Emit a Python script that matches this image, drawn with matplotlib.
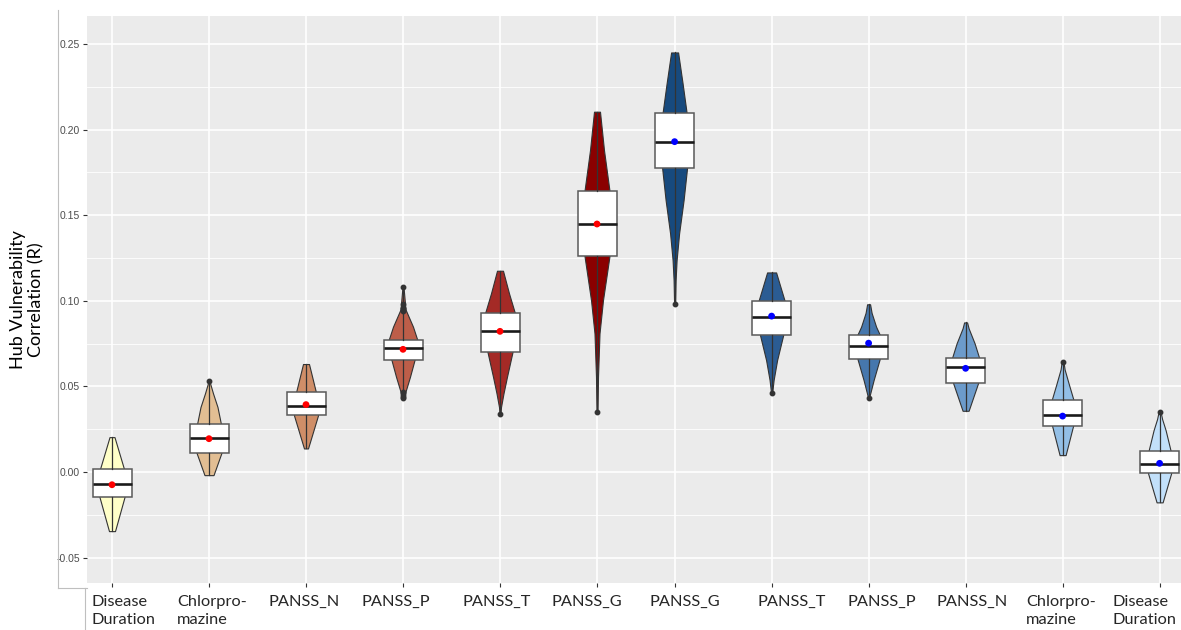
import numpy as np
import matplotlib
matplotlib.use("Agg")
import matplotlib.pyplot as plt
from matplotlib.lines import Line2D

# ---- data -------------------------------------------------------------
labels = ["Disease\nDuration", "Chlorpro-\nmazine", "PANSS_N", "PANSS_P", "PANSS_T", "PANSS_G",
          "PANSS_G", "PANSS_T", "PANSS_P", "PANSS_N", "Chlorpro-\nmazine", "Disease\nDuration"]

# box summaries
q1 = [-0.0146, 0.0113, 0.0331, 0.0654, 0.0701, 0.1262,
      0.1778, 0.0798, 0.0658, 0.0520, 0.0270, -0.0008]
median = [-0.0070, 0.0197, 0.0387, 0.0722, 0.0822, 0.1447,
          0.1926, 0.0907, 0.0734, 0.0611, 0.0333, 0.0047]
q3 = [0.0018, 0.0279, 0.0465, 0.0769, 0.0927, 0.1643,
      0.2099, 0.1001, 0.0798, 0.0668, 0.0419, 0.0125]
mean = [-0.0074, 0.0195, 0.0394, 0.0717, 0.0822, 0.1449,
        0.1930, 0.0911, 0.0753, 0.0606, 0.0327, 0.0051]
vmin = [-0.0345, -0.0018, 0.0138, 0.0430, 0.0341, 0.0352,
        0.0981, 0.0460, 0.0434, 0.0358, 0.0099, -0.0177]
vmax = [0.0204, 0.0533, 0.0631, 0.1082, 0.1176, 0.2105,
        0.2451, 0.1166, 0.0980, 0.0874, 0.0641, 0.0352]
outliers = [[], [0.0533], [], [0.1082, 0.098, 0.096, 0.095, 0.094, 0.047, 0.046, 0.045, 0.044, 0.043],
            [0.0341], [0.0352], [0.0981], [0.0460], [0.0434], [], [0.0641], [0.0352]]

# violin density profiles: (value, density) pairs
profile_y = [
    [-0.0345, -0.0146, -0.0070, 0.0018, 0.0204],
    [-0.0018, 0.0113, 0.0200, 0.0279, 0.0380, 0.0460, 0.0510, 0.0533],
    [0.0138, 0.0331, 0.0390, 0.0465, 0.0631],
    [0.0430, 0.0470, 0.0557, 0.0654, 0.0720, 0.0769, 0.0849, 0.0950, 0.1082],
    [0.0341, 0.0380, 0.0460, 0.0557, 0.0701, 0.0820, 0.0927, 0.1044, 0.1176],
    [0.0352, 0.0557, 0.0810, 0.1005, 0.1262, 0.1450, 0.1643, 0.1880, 0.2105],
    [0.0981, 0.1121, 0.1238, 0.1394, 0.1589, 0.1778, 0.1930, 0.2099, 0.2270, 0.2451],
    [0.0460, 0.0537, 0.0654, 0.0798, 0.0907, 0.1001, 0.1166],
    [0.0434, 0.0537, 0.0658, 0.0734, 0.0798, 0.0849, 0.0930, 0.0980],
    [0.0358, 0.0520, 0.0610, 0.0668, 0.0752, 0.0840, 0.0874],
    [0.0099, 0.0270, 0.0340, 0.0419, 0.0518, 0.0600, 0.0641],
    [-0.0177, -0.0008, 0.0050, 0.0125, 0.0245, 0.0310, 0.0352],
]
profile_d = [
    [6, 25, 30, 24, 5],
    [9, 25, 28, 24, 17, 8, 3, 1],
    [4, 24, 25, 20, 6],
    [1, 5, 14, 23, 31, 29, 20, 5, 1],
    [1, 2, 7, 14, 25, 31, 30, 18, 6],
    [1, 2, 5, 12, 25, 30, 25, 14, 6],
    [1, 2, 4, 9, 18, 25, 28, 24, 16, 7],
    [1, 4, 11, 23, 28, 26, 9],
    [1, 10, 22, 25, 23, 15, 6, 3],
    [6, 25, 29, 27, 18, 6, 3],
    [6, 21, 24, 22, 12, 4, 2],
    [6, 23, 25, 22, 12, 5, 2],
]

fill_colors = ["#FFFFC8", "#E2BE93", "#CF8E68", "#BD5E49", "#A42A26", "#8B0000",
               "#174A7E", "#2B5C93", "#4677AD", "#6C9BCB", "#93BFE6", "#C2E0FA"]
mean_colors = ["#FF0000"] * 6 + ["#0000FF"] * 6

# ---- layout -----------------------------------------------------------
W, H = 1181, 630
positions = np.r_[np.arange(6), np.arange(6) + 5.8]
unit_px = 97.0
label_centers_px = [123, 212, 304, 395.5, 497, 587, 685, 792, 882, 972, 1061, 1145]

fig = plt.figure(figsize=(W / 100, H / 100), dpi=100, facecolor="white")
ax_left, ax_right, ax_bottom, ax_top = 87, 1181, 583, 16
ax = fig.add_axes([ax_left / W, 1 - ax_bottom / H, (ax_right - ax_left) / W, (ax_bottom - ax_top) / H])
ax.set_facecolor("#EBEBEB")
for s in ax.spines.values():
    s.set_visible(False)

ax.set_xlim((ax_left - 112) / unit_px, (ax_right - 112) / unit_px)
ax.set_ylim(-0.0648, 0.2664)

# grid
ax.set_yticks(np.arange(-0.05, 0.2501, 0.05))
ax.set_yticks(np.arange(-0.025, 0.26, 0.05), minor=True)
ax.set_xticks(positions)
ax.grid(which="major", color="white", linewidth=1.2, zorder=0)
ax.grid(which="minor", axis="y", color="white", linewidth=0.6, zorder=0)
ax.set_axisbelow(True)
ax.tick_params(axis="x", which="minor", bottom=False)
ax.tick_params(axis="y", which="minor", left=False)

ax.set_yticklabels([f"{v:.2f}" for v in np.arange(-0.05, 0.2501, 0.05)],
                   fontsize=7.5, color="#4D4D4D", family="Liberation Sans")
ax.tick_params(axis="y", which="major", length=3, width=0.8, color="#333333", pad=2)
ax.tick_params(axis="x", which="major", length=3, width=0.8, color="#333333", labelbottom=False)

# violins
vpstats = []
for i in range(len(labels)):
    vpstats.append(dict(coords=np.array(profile_y[i]), vals=np.array(profile_d[i], float),
                        mean=mean[i], median=median[i], min=vmin[i], max=vmax[i]))
vwidths = [max(d) / unit_px for d in profile_d]
parts = ax.violin(vpstats, positions=positions, widths=vwidths,
                  showmeans=False, showextrema=False, showmedians=False)
for body, c in zip(parts["bodies"], fill_colors):
    body.set_facecolor(c)
    body.set_edgecolor("#333333")
    body.set_linewidth(0.8)
    body.set_alpha(1)
    body.set_zorder(2)

# boxes
bstats = []
for i in range(len(labels)):
    bstats.append(dict(q1=q1[i], med=median[i], q3=q3[i], whislo=vmin[i], whishi=vmax[i],
                       fliers=outliers[i]))
ax.bxp(bstats, positions=positions, widths=39 / unit_px, patch_artist=True,
       showcaps=False, showfliers=True, manage_ticks=False, zorder=3,
       boxprops=dict(facecolor="white", edgecolor="#595959", linewidth=1.1),
       medianprops=dict(color="#1A1A1A", linewidth=1.9, solid_capstyle="butt"),
       whiskerprops=dict(color="#333333", linewidth=0.9),
       flierprops=dict(marker="o", markersize=3.2, markerfacecolor="#333333",
                       markeredgecolor="#333333"))

# means
ax.scatter(positions, mean, s=24, c=mean_colors, zorder=5, linewidths=0)

# category labels
for lab, cx in zip(labels, label_centers_px):
    fig.text(cx / W, 1 - 595 / H, lab, ha="center", va="top", multialignment="left",
             fontsize=11.8, family="Lato", color="#262626", linespacing=1.4)

# axis title
fig.text(27 / W, 1 - 300 / H, "Hub Vulnerability\nCorrelation (R)", rotation=90,
         ha="center", va="center", fontsize=13, family="Lato", color="black",
         linespacing=1.15)

# frame lines around the panel
lc = "#BFBFBF"
fig.add_artist(Line2D([58 / W, 58 / W], [1 - 10 / H, 1 - 588 / H], color=lc, linewidth=0.8))
fig.add_artist(Line2D([58 / W, 87 / W], [1 - 588 / H, 1 - 588 / H], color=lc, linewidth=0.8))
fig.add_artist(Line2D([85 / W, 85 / W], [1 - 588 / H, 0], color=lc, linewidth=0.8))

fig.savefig("out.png", dpi=100, facecolor="white")
